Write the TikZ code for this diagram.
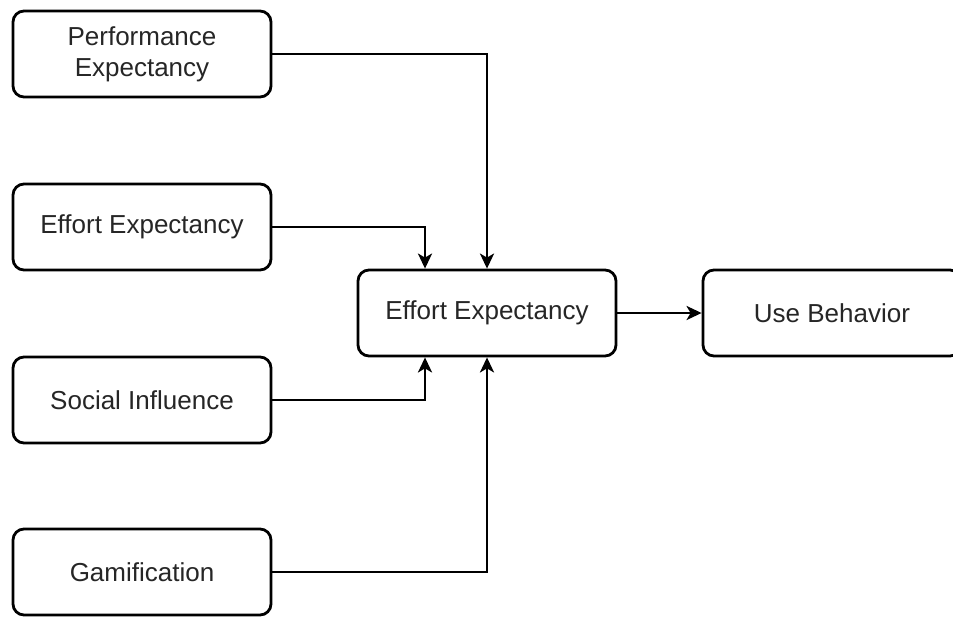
\documentclass[tikz,border=0pt]{standalone}
\usepackage{fontspec}
\setmainfont{Liberation Sans}
\usetikzlibrary{arrows.meta}
\begin{document}
\begin{tikzpicture}[x=1pt,y=-1pt,
  box/.style={draw=black, line width=2.8pt, rounded corners=11pt, fill=white,
    minimum width=258pt, minimum height=86pt, inner sep=0pt, align=center,
    font=\fontsize{26}{31}\selectfont, text=black!85},
  link/.style={draw=black, line width=2.8pt, -{Stealth[length=15pt,width=14pt,inset=4pt]}}]
  \useasboundingbox (0,0) rectangle (953,616);
  \fill[white] (0,0) rectangle (953,616);
  \begin{scope}
  \clip (0,0) rectangle (953,616);
  % input constructs
  \node[box] (pe)  at (142,54)  {Performance\\Expectancy};
  \node[box] (ee)  at (142,227) {Effort Expectancy};
  \node[box] (si)  at (142,400) {Social Influence};
  \node[box] (gam) at (142,572) {Gamification};
  % mediator and outcome
  \node[box] (mid) at (487,313) {Effort Expectancy};
  \node[box] (ub)  at (832,313) {Use Behavior};
  % connectors
  \draw[link] (pe.east)  -| (mid.north);
  \draw[link] (ee.east)  -| ([xshift=-62pt]mid.north);
  \draw[link] (si.east)  -| ([xshift=-62pt]mid.south);
  \draw[link] (gam.east) -| (mid.south);
  \draw[link] (mid.east) -- (ub.west);
  \end{scope}
\end{tikzpicture}
\end{document}
